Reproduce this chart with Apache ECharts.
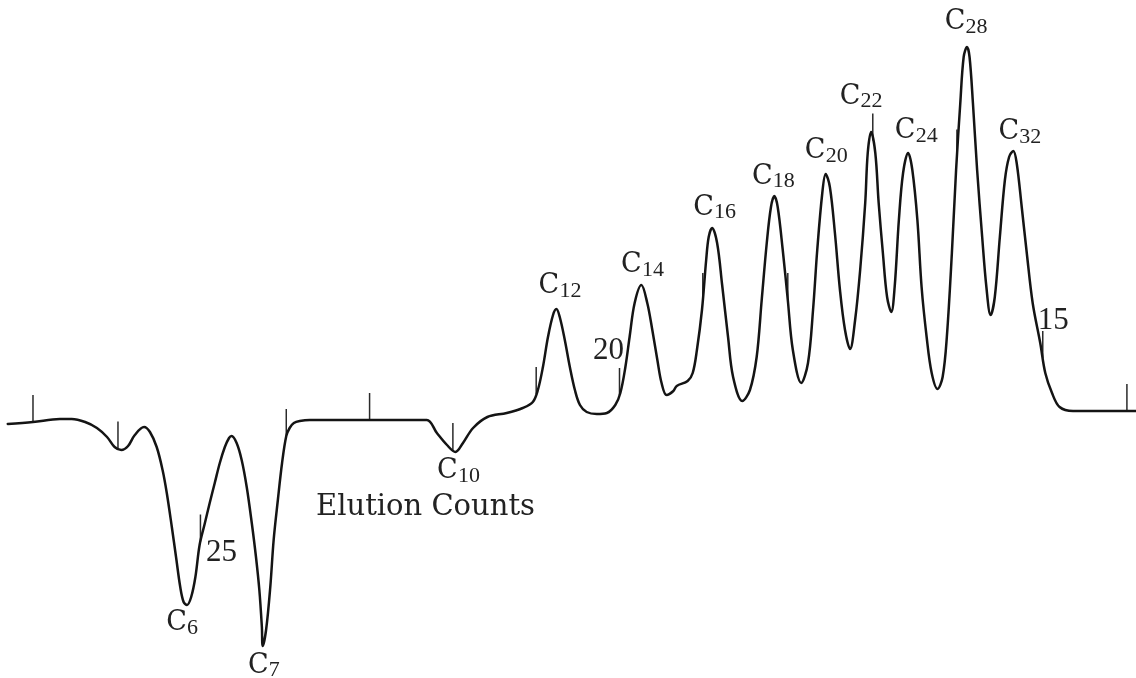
<!DOCTYPE html>
<html>
<head>
<meta charset="utf-8">
<script src="https://cdn.jsdelivr.net/npm/echarts@6/dist/echarts.min.js"></script>
<style>
  html, body { margin: 0; padding: 0; background: #ffffff; }
  #chart { width: 1136px; height: 678px; }
</style>
</head>
<body>
<div id="chart"></div>
<script>
// Detector trace: elution count (decreasing to the right) and detector response
const elutionCount = [
  27.30, 27.00, 26.68, 26.54, 26.38, 26.24, 26.12, 26.03, 25.95, 25.87,
  25.79, 25.68, 25.61, 25.53, 25.46, 25.41, 25.35, 25.30, 25.25, 25.21,
  25.17, 25.12, 25.07, 25.02, 24.96, 24.90, 24.84, 24.78, 24.72, 24.67,
  24.64, 24.58, 24.52, 24.46, 24.40, 24.35, 24.31, 24.28, 24.27, 24.23,
  24.18, 24.14, 24.09, 24.04, 23.99, 23.95, 23.90, 23.83, 23.71, 23.47,
  22.98, 22.64, 22.32, 22.20, 22.08, 21.98, 21.89, 21.77, 21.60, 21.37,
  21.18, 21.06, 21.00, 20.94, 20.88, 20.82, 20.78, 20.74, 20.68, 20.62,
  20.56, 20.50, 20.42, 20.30, 20.18, 20.08, 20.02, 19.96, 19.91, 19.85,
  19.77, 19.70, 19.64, 19.58, 19.53, 19.47, 19.39, 19.35, 19.22, 19.16,
  19.11, 19.05, 19.00, 18.97, 18.93, 18.87, 18.81, 18.74, 18.68, 18.57,
  18.48, 18.40, 18.34, 18.28, 18.23, 18.19, 18.15, 18.09, 18.03, 17.97,
  17.87, 17.79, 17.73, 17.68, 17.62, 17.58, 17.53, 17.47, 17.41, 17.35,
  17.29, 17.23, 17.17, 17.11, 17.08, 17.04, 16.99, 16.95, 16.90, 16.85,
  16.80, 16.76, 16.71, 16.66, 16.60, 16.55, 16.49, 16.44, 16.38, 16.32,
  16.25, 16.19, 16.14, 16.08, 16.03, 15.98, 15.94, 15.90, 15.87, 15.83,
  15.78, 15.72, 15.67, 15.62, 15.57, 15.51, 15.45, 15.40, 15.35, 15.31,
  15.25, 15.19, 15.12, 15.03, 14.97, 14.89, 14.80, 14.64, 14.32, 14.00,
  13.89
];
const response = [
  -0.4, -0.2, 0.1, 0.1, -0.2, -0.8, -1.7, -2.7, -3.0, -2.6,
  -1.5, -0.7, -1.2, -2.7, -5.0, -7.3, -10.7, -13.7, -16.7, -18.2,
  -18.5, -17.7, -15.7, -12.5, -10.4, -8.3, -6.3, -4.3, -2.7, -1.8,
  -1.6, -2.3, -4.0, -6.7, -10.3, -13.7, -17.0, -20.7, -22.6, -21.0,
  -16.7, -12.0, -8.0, -4.3, -1.6, -0.8, -0.3, -0.1, 0.0, 0.0,
  0.0, 0.0, 0.0, -1.3, -2.5, -3.2, -2.3, -0.8, 0.3, 0.7,
  1.2, 1.8, 3.0, 5.3, 8.3, 10.5, 11.1, 10.3, 8.0, 5.3,
  3.0, 1.5, 0.8, 0.6, 0.7, 1.5, 2.7, 5.3, 8.3, 11.7,
  13.5, 11.7, 9.0, 6.0, 3.7, 2.5, 2.9, 3.4, 3.9, 4.7,
  7.0, 11.0, 16.0, 18.3, 19.2, 17.7, 13.5, 8.3, 4.3, 1.9,
  3.0, 6.3, 12.0, 17.7, 21.3, 22.4, 21.3, 17.0, 12.0, 7.0,
  3.7, 5.7, 11.0, 17.0, 22.7, 24.6, 23.3, 18.7, 13.0, 9.0,
  7.1, 10.0, 15.0, 21.7, 26.7, 28.8, 26.7, 21.7, 16.7, 12.3,
  10.8, 13.3, 20.0, 24.7, 26.7, 25.0, 20.0, 13.3, 8.3, 4.7,
  3.1, 4.3, 8.3, 16.7, 25.0, 31.7, 36.3, 37.3, 36.3, 31.7,
  25.0, 18.3, 13.3, 10.5, 12.3, 18.3, 24.0, 26.3, 26.9, 25.7,
  21.3, 16.7, 11.7, 7.7, 4.7, 2.7, 1.3, 0.9, 0.9, 0.9,
  0.9
];

// Count marks as they fall on the record, and the marks that carry a number
const tickCounts = [27.00, 25.99, 25.01, 23.99, 23.00, 22.01, 21.02, 20.03, 19.04, 18.03, 17.02, 16.02, 15.00, 14.00];
const tickLabelCounts = [25.01, 20.03, 15.00];
const tickLabelText = ['25', '20', '15'];

// Peak assignments (carbon number) and the count at each peak apex
const peakCarbons = ['6', '7', '10', '12', '14', '16', '18', '20', '22', '24', '28', '32'];
const peakCounts = [25.17, 24.27, 21.98, 20.78, 19.77, 18.93, 18.19, 17.58, 17.04, 16.60, 15.90, 15.35];

// ---- layout (pixels) ----
const TICK_LEN = 27;
const peakLabelOffset = [
  [-10.5, 18], [-4.5, 19.5], [-8, 19], [-7.5, -23], [-10, -20], [-8.5, -20.5],
  [-12, -19.5], [-10.5, -23], [-21, -35.5], [-3, -22], [-12, -25], [-4.5, -19]
];
const SUB_DX = 10.5, SUB_DY = 5;
const tickLabelOffset = [[21, 11], [-11, -44], [10.5, -37]];
const INK = '#141414';
const TEXT_INK = '#222222';

const trace = elutionCount.map((c, i) => [c, response[i]]);

// Response on the trace at a given count (between neighbouring samples)
function responseAt(c) {
  for (let i = 0; i < elutionCount.length - 1; i++) {
    const a = elutionCount[i], b = elutionCount[i + 1];
    if (c <= a && c >= b) {
      const t = (a - c) / (a - b);
      return response[i] + t * (response[i + 1] - response[i]);
    }
  }
  return response[response.length - 1];
}
function nearestIndex(c) {
  let best = 0;
  elutionCount.forEach((v, i) => { if (Math.abs(v - c) < Math.abs(elutionCount[best] - c)) best = i; });
  return best;
}

const tickData = tickCounts.map(c => [c, responseAt(c)]);
const tickLabelData = tickLabelCounts.map(c => [c, responseAt(c)]);
const peakData = peakCounts.map(c => { const i = nearestIndex(c); return [elutionCount[i], response[i]]; });

const chart = echarts.init(document.getElementById('chart'), null, { renderer: 'canvas' });

chart.setOption({
  animation: false,
  backgroundColor: '#ffffff',
  grid: { left: 0, right: 0, top: 0, bottom: 0, containLabel: false },
  xAxis: { type: 'value', inverse: true, min: 13.892, max: 27.392, show: false },
  yAxis: { type: 'value', min: -25.8, max: 42, show: false },
  graphic: [{
    type: 'text',
    x: 425.5, y: 507,
    style: {
      text: 'Elution Counts',
      font: '29px "DejaVu Serif"',
      fill: TEXT_INK,
      align: 'center',
      verticalAlign: 'middle'
    }
  }],
  series: [
    {
      type: 'line',
      data: trace,
      showSymbol: false,
      smooth: 0.35,
      lineStyle: { color: INK, width: 2.5, join: 'round', cap: 'round' },
      z: 3
    },
    {
      type: 'custom',
      data: tickData,
      encode: { x: 0, y: 1 },
      clip: false,
      z: 2,
      renderItem: (params, api) => {
        const p = api.coord([api.value(0), api.value(1)]);
        return {
          type: 'line',
          shape: { x1: p[0], y1: p[1], x2: p[0], y2: p[1] - TICK_LEN },
          style: { stroke: '#2a2a2a', lineWidth: 1.5 }
        };
      }
    },
    {
      type: 'custom',
      data: tickLabelData,
      encode: { x: 0, y: 1 },
      clip: false,
      z: 4,
      renderItem: (params, api) => {
        const p = api.coord([api.value(0), api.value(1)]);
        const off = tickLabelOffset[params.dataIndex];
        return {
          type: 'text',
          x: p[0] + off[0], y: p[1] + off[1],
          style: {
            text: tickLabelText[params.dataIndex],
            font: '31px "Liberation Serif"',
            fill: TEXT_INK,
            align: 'center',
            verticalAlign: 'middle'
          }
        };
      }
    },
    {
      type: 'custom',
      data: peakData,
      encode: { x: 0, y: 1 },
      clip: false,
      z: 4,
      renderItem: (params, api) => {
        const p = api.coord([api.value(0), api.value(1)]);
        const off = peakLabelOffset[params.dataIndex];
        const cx = p[0] + off[0], cy = p[1] + off[1];
        return {
          type: 'group',
          children: [
            {
              type: 'text', x: cx, y: cy,
              style: { text: 'C', font: '27px "DejaVu Serif"', fill: TEXT_INK, align: 'center', verticalAlign: 'middle' }
            },
            {
              type: 'text', x: cx + SUB_DX, y: cy + SUB_DY,
              style: { text: peakCarbons[params.dataIndex], font: '22px "Liberation Serif"', fill: TEXT_INK, align: 'left', verticalAlign: 'middle' }
            }
          ]
        };
      }
    }
  ]
});
</script>
</body>
</html>
